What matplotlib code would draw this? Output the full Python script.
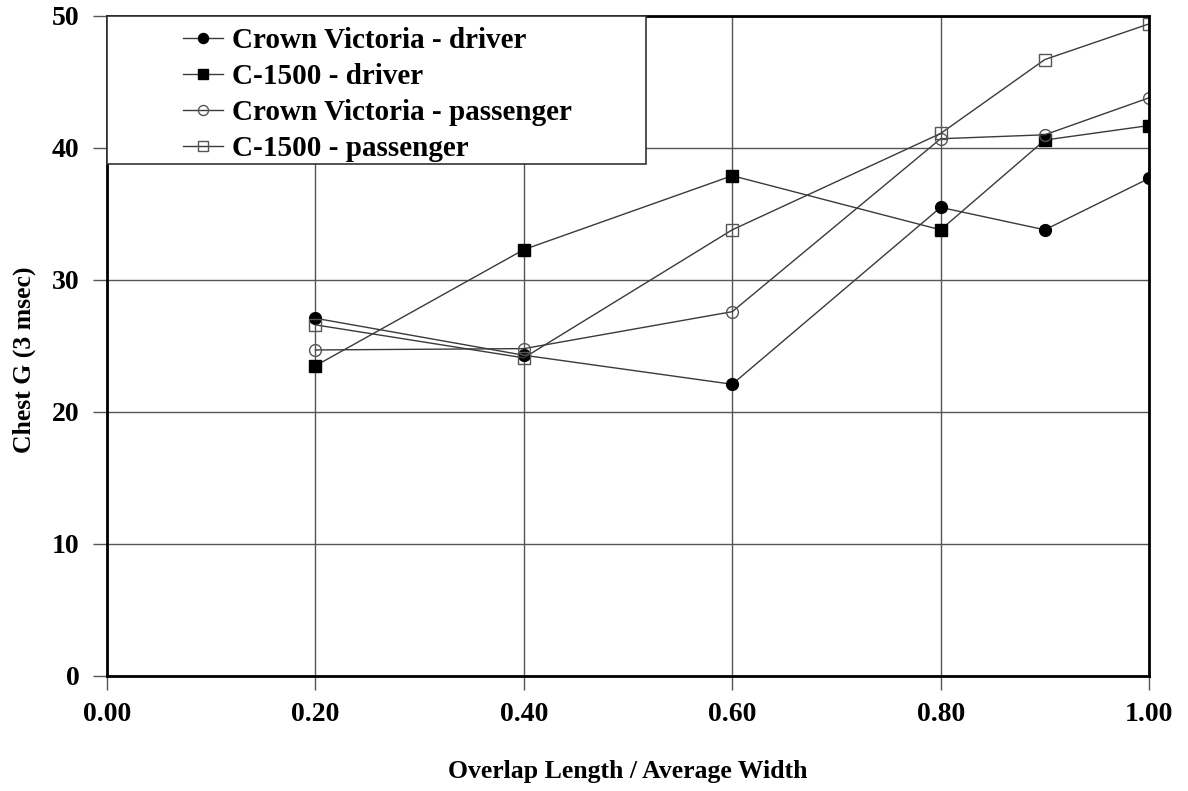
import matplotlib.pyplot as plt
from matplotlib.patches import Rectangle

# overlap ratio vs chest G
x_ratio = [0.2, 0.4, 0.6, 0.8, 0.9, 1.0]
cv_driver = [27.1, 24.3, 22.1, 35.5, 33.8, 37.7]
c1500_driver = [23.5, 32.3, 37.9, 33.8, 40.6, 41.7]
cv_passenger = [24.7, 24.8, 27.6, 40.7, 41.0, 43.8]
c1500_passenger = [26.6, 24.1, 33.8, 41.1, 46.7, 49.4]
series_labels = ['Crown Victoria - driver', 'C-1500 - driver',
                 'Crown Victoria - passenger', 'C-1500 - passenger']
xticks = [0.0, 0.2, 0.4, 0.6, 0.8, 1.0]
yticks = [0, 10, 20, 30, 40, 50]

plt.rcParams['font.family'] = 'Liberation Serif'
plt.rcParams['font.weight'] = 'bold'

fig = plt.figure(figsize=(11.88, 7.91), dpi=100)
ax = fig.add_axes([0.0901, 0.1454, 0.8771, 0.8344])

ax.set_xlim(0, 1.0)
ax.set_ylim(0, 50)
ax.set_xticks(xticks)
ax.set_yticks(yticks)
ax.set_xticklabels(['%.2f' % v for v in xticks])
ax.grid(True, color='#555555', linewidth=1)
ax.set_axisbelow(True)

line_c = '#3a3a3a'
h1, = ax.plot(x_ratio, cv_driver, color=line_c, lw=1, marker='o', ms=8.5,
              mfc='black', mec='black')
h2, = ax.plot(x_ratio, c1500_driver, color=line_c, lw=1, marker='s', ms=8.5,
              mfc='black', mec='black')
h3, = ax.plot(x_ratio, cv_passenger, color=line_c, lw=1, marker='o', ms=8.5,
              mfc='none', mec='#555555', mew=1)
h4, = ax.plot(x_ratio, c1500_passenger, color=line_c, lw=1, marker='s', ms=8.5,
              mfc='none', mec='#555555', mew=1)

for s in ax.spines.values():
    s.set_linewidth(2)
    s.set_color('black')
ax.tick_params(direction='out', length=10, width=1, color='#555555',
               labelsize=20)
ax.tick_params(axis='x', pad=9)
ax.tick_params(axis='y', pad=10)
for lab in ax.get_xticklabels() + ax.get_yticklabels():
    lab.set_fontweight('bold')

ax.set_xlabel('Overlap Length / Average Width', fontsize=18.5, fontweight='bold')
ax.set_ylabel('Chest G (3 msec)', fontsize=18.5, fontweight='bold')
ax.xaxis.set_label_coords(0.5, -0.128)
ax.yaxis.set_label_coords(-0.068, 0.479)

# legend frame
ax.add_patch(Rectangle((0, 0.7758), 0.517, 0.2242, transform=ax.transAxes,
                       facecolor='white', edgecolor='#333333', lw=1.2,
                       zorder=4, clip_on=False))
leg = ax.legend([h1, h2, h3, h4], series_labels, loc='upper left',
                bbox_to_anchor=(0.059, 1.005), frameon=False,
                prop={'weight': 'bold', 'size': 21}, handlelength=1.37,
                handletextpad=0.3, labelspacing=0.31, borderpad=0,
                markerscale=0.85)
leg.set_zorder(5)

plt.savefig('out.png', dpi=100)
